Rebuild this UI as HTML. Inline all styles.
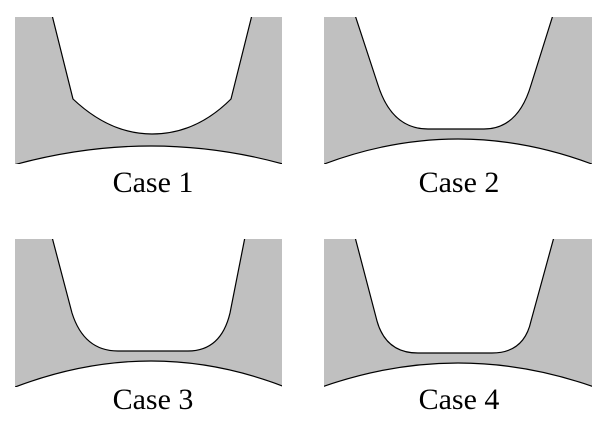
<!DOCTYPE html>
<html><head><style>body{margin:0;background:#fff}svg{display:block}</style></head><body>
<svg width="609" height="435" viewBox="0 0 609 435" xmlns="http://www.w3.org/2000/svg">
<defs>
<clipPath id="c1"><rect x="15" y="17" width="267" height="147"/></clipPath>
<clipPath id="c2"><rect x="324" y="17" width="268" height="147"/></clipPath>
<clipPath id="c3"><rect x="15" y="239" width="267" height="148"/></clipPath>
<clipPath id="c4"><rect x="324" y="239" width="268" height="148"/></clipPath>
</defs>
<g stroke="#000" stroke-width="1.2" fill="#fff">
<g clip-path="url(#c1)">
<rect x="15" y="17" width="267" height="147" fill="#c0c0c0" stroke="none"/>
<path d="M52,15 L73,99 Q110,134 152,134 Q196,134 231,99 L252,15 Z"/>
<path d="M10,166 Q152,126 290,166 L290,170 L10,170 Z"/>
</g>
<g clip-path="url(#c2)">
<rect x="324" y="17" width="268" height="147" fill="#c0c0c0" stroke="none"/>
<path d="M355,15 L378,85 Q392,129 428,129 L484,129 Q518,129 531,85 L553,15 Z"/>
<path d="M319,166 Q458,112 597,166 L597,170 L319,170 Z"/>
</g>
<g clip-path="url(#c3)">
<rect x="15" y="239" width="267" height="148" fill="#c0c0c0" stroke="none"/>
<path d="M52,237 L72,313 Q84,351 118,351 L188,351 Q221,351 230,313 L245,237 Z"/>
<path d="M10,389 Q152,333 290,389 L290,392 L10,392 Z"/>
</g>
<g clip-path="url(#c4)">
<rect x="324" y="239" width="268" height="148" fill="#c0c0c0" stroke="none"/>
<path d="M355,237 L377,321 Q386,353 418,353 L492,353 Q524,353 531,321 L554,237 Z"/>
<path d="M319,388 Q458,338 597,388 L597,392 L319,392 Z"/>
</g>
</g>
<g font-family="Liberation Serif, serif" font-size="30" text-anchor="middle" fill="#000">
<text x="153" y="192">Case 1</text>
<text x="459" y="192">Case 2</text>
<text x="153" y="409">Case 3</text>
<text x="459" y="409">Case 4</text>
</g>
</svg>
</body></html>
